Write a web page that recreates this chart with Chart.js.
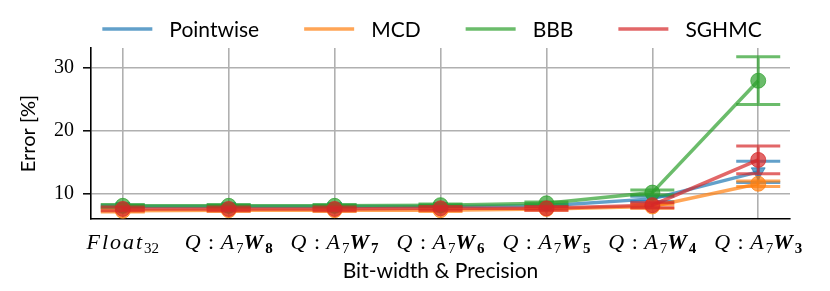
<!DOCTYPE html>
<html><head><meta charset="utf-8">
<script src="https://cdn.jsdelivr.net/npm/chart.js@4"></script>
<style>html,body{margin:0;padding:0;background:#fff}#wrap{width:830px;height:291px;position:relative}</style>
</head><body><div id="wrap"><canvas id="c" width="830" height="291"></canvas></div>
<script>
// ---- data ----
const tickLabels = ['Float_{32}', 'Q:A_{7}W_{8}', 'Q:A_{7}W_{7}', 'Q:A_{7}W_{6}', 'Q:A_{7}W_{5}', 'Q:A_{7}W_{4}', 'Q:A_{7}W_{3}'];
const seriesNames = ['Pointwise', 'MCD', 'BBB', 'SGHMC'];
const pointwise    = [8.0, 8.0, 8.0, 8.0, 8.1, 9.2, 13.5];
const pointwiseErr = [0.2, 0.2, 0.2, 0.2, 0.2, 0.4, 1.7];
const mcd          = [7.3, 7.4, 7.4, 7.4, 7.6, 8.0, 11.6];
const mcdErr       = [0.2, 0.2, 0.2, 0.2, 0.2, 0.3, 0.45];
const bbb          = [8.1, 8.1, 8.1, 8.2, 8.5, 10.2, 28.0];
const bbbErr       = [0.2, 0.2, 0.2, 0.2, 0.2, 0.4, 3.8];
const sghmc        = [7.6, 7.6, 7.6, 7.7, 7.7, 8.2, 15.4];
const sghmcErr     = [0.3, 0.3, 0.3, 0.3, 0.3, 0.4, 2.2];
const yTicks = [10, 20, 30];

// ---- styles ----
const colors = ['rgba(31,119,180,0.7)', 'rgba(255,127,14,0.7)', 'rgba(44,160,44,0.7)', 'rgba(214,39,40,0.7)'];
const values = [pointwise, mcd, bbb, sghmc];
const errs = [pointwiseErr, mcdErr, bbbErr, sghmcErr];
const MAIN = 22, SUB = 15;

function parseLabel(lab) {
  const out = []; let bold = false; const re = /_\{([^}]*)\}|:|./g; let m;
  while ((m = re.exec(lab))) {
    if (m[1] !== undefined) out.push({text: m[1], font: (bold ? 'bold ' : '') + SUB + 'px "Liberation Serif"', dy: 4, ls: 0});
    else if (m[0] === ':') out.push({text: ' : ', font: MAIN + 'px "Liberation Serif"', dy: 0, ls: 1});
    else { if (m[0] === 'W') bold = true; out.push({text: m[0], font: 'italic ' + (bold ? 'bold ' : '') + MAIN + 'px "Liberation Serif"', dy: 0, ls: 2}); }
  }
  return out;
}

const errorBarPlugin = {
  id: 'errbars',
  beforeDatasetDraw(chart, args) {
    const ds = chart.data.datasets[args.index];
    const ctx = chart.ctx, ys = chart.scales.y, xs = chart.scales.x;
    ctx.save(); ctx.strokeStyle = ds.borderColor; ctx.lineWidth = 3;
    ds.data.forEach((p, i) => {
      const e = ds.errors[i]; const x = xs.getPixelForValue(p.x);
      const y1 = ys.getPixelForValue(p.y - e), y2 = ys.getPixelForValue(p.y + e);
      ctx.beginPath();
      ctx.moveTo(x, y1); ctx.lineTo(x, y2);
      ctx.moveTo(x - 22, y1); ctx.lineTo(x + 22, y1);
      ctx.moveTo(x - 22, y2); ctx.lineTo(x + 22, y2);
      ctx.stroke();
    });
    ctx.restore();
  }
};

const xLabelPlugin = {
  id: 'xlabels',
  afterDraw(chart) {
    const ctx = chart.ctx, xs = chart.scales.x;
    const base = chart.chartArea.bottom + 30;
    ctx.save(); ctx.fillStyle = '#000'; ctx.textBaseline = 'alphabetic'; ctx.textAlign = 'left';
    tickLabels.forEach((lab, i) => {
      const segs = parseLabel(lab);
      let w = 0;
      segs.forEach(s => { ctx.font = s.font; s.w = ctx.measureText(s.text).width + s.ls; w += s.w; });
      let x = xs.getPixelForValue(i) - w / 2;
      segs.forEach(s => { ctx.font = s.font; ctx.fillText(s.text, x, base + s.dy); x += s.w; });
    });
    ctx.restore();
  }
};

const legendPlugin = {
  id: 'toplegend',
  afterDraw(chart) {
    const ctx = chart.ctx; ctx.save(); ctx.font = '21px Lato'; ctx.textBaseline = 'middle';
    const lineLen = 50, gapText = 17, gapItem = 45, y = 29;
    const items = chart.data.datasets.map(d => ({label: d.label, color: d.borderColor, w: ctx.measureText(d.label).width}));
    const total = items.reduce((a, it) => a + lineLen + gapText + it.w, 0) + gapItem * (items.length - 1);
    let x = 432 - total / 2;
    items.forEach(it => {
      ctx.strokeStyle = it.color; ctx.lineWidth = 3.5;
      ctx.beginPath(); ctx.moveTo(x, y); ctx.lineTo(x + lineLen, y); ctx.stroke();
      ctx.fillStyle = '#000'; ctx.fillText(it.label, x + lineLen + gapText, y + 1);
      x += lineLen + gapText + it.w + gapItem;
    });
    ctx.restore();
  }
};

const datasets = seriesNames.map((name, k) => ({
  label: name,
  data: values[k].map((v, i) => ({x: i, y: v})),
  errors: errs[k],
  borderColor: colors[k],
  backgroundColor: colors[k],
  pointBackgroundColor: colors[k],
  pointBorderColor: colors[k],
  pointBorderWidth: 1,
  borderWidth: 3.5,
  pointStyle: k === 0 ? 'triangle' : 'circle',
  pointRotation: k === 0 ? 180 : 0,
  pointRadius: k === 0 ? 8 : 7.5,
  tension: 0,
  fill: false,
  order: 4 - k
}));

new Chart(document.getElementById('c'), {
  type: 'line',
  data: {datasets},
  plugins: [errorBarPlugin, xLabelPlugin, legendPlugin],
  options: {
    responsive: false, animation: false, devicePixelRatio: 1,
    layout: {padding: {top: 48, right: 40, left: 0, bottom: 0}},
    plugins: {legend: {display: false}, tooltip: {enabled: false}},
    scales: {
      x: {
        type: 'linear', min: -0.3, max: 6.3,
        afterBuildTicks: s => { s.ticks = tickLabels.map((_, i) => ({value: i})); },
        afterFit: s => { s.height = 72; },
        ticks: {callback: () => '', padding: 0},
        grid: {color: '#b0b0b0', lineWidth: 1.6, drawTicks: false},
        border: {display: true, color: '#000', width: 1.6},
        title: {display: true, text: 'Bit-width & Precision', color: '#000', font: {family: 'Lato', size: 21}, padding: {top: 0, bottom: 7}}
      },
      y: {
        type: 'linear', min: 6.0, max: 33.2,
        afterBuildTicks: s => { s.ticks = yTicks.map(v => ({value: v})); },
        afterFit: s => { s.width = 91; },
        ticks: {color: '#000', font: {family: 'Liberation Serif', size: 20}, padding: 9},
        grid: {color: '#b0b0b0', lineWidth: 1.6, tickColor: '#000', tickLength: 8, tickWidth: 1.5},
        border: {display: true, color: '#000', width: 1.6},
        title: {display: true, text: 'Error [%]', color: '#000', font: {family: 'Lato', size: 20}, padding: {top: 17, bottom: 0}}
      }
    }
  }
});
</script></body></html>
